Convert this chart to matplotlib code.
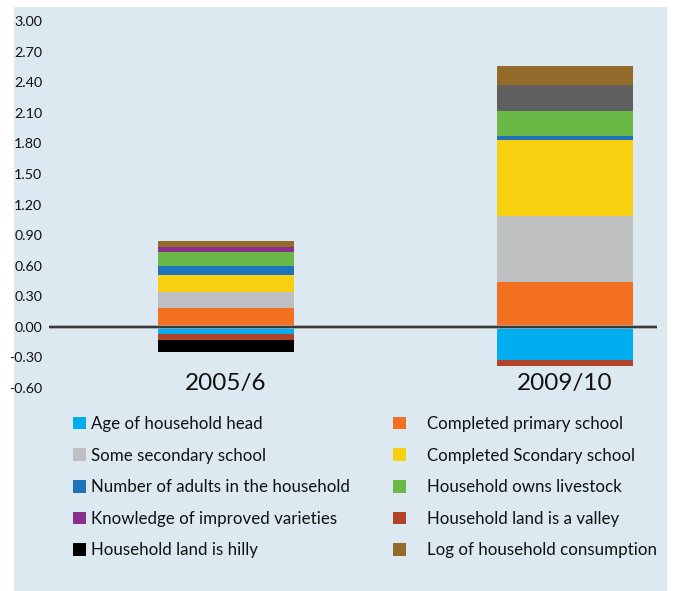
import matplotlib
matplotlib.use("Agg")
import matplotlib.pyplot as plt
from matplotlib.patches import Rectangle, Patch
import numpy as np

plt.rcParams['font.family'] = ['Lato', 'DejaVu Sans']

categories = ["2005/6", "2009/10"]
series_names = [
    "Age of household head",
    "Completed primary school",
    "Some secondary school",
    "Completed Scondary school",
    "Number of adults in the household",
    "Household owns livestock",
    "Knowledge of improved varieties",
    "Household land is a valley",
    "Household land is hilly",
    "Log of household consumption",
]
age = [-0.07, -0.33]
primary = [0.18, 0.44]
some_secondary = [0.16, 0.65]
completed_secondary = [0.17, 0.74]
adults = [0.09, 0.04]
livestock = [0.13, 0.25]
knowledge = [0.05, 0.0]
valley = [-0.06, -0.05]
hilly = [-0.12, 0.25]
consumption = [0.06, 0.19]
values = [age, primary, some_secondary, completed_secondary, adults,
          livestock, knowledge, valley, hilly, consumption]
colors = ["#00aeef", "#f37021", "#bebfc0", "#f7d10f", "#1f73bb",
          "#6ab845", "#8b2f8f", "#b0432a", "#000000", "#956b2b"]
bar_colors_override = {8: ["#000000", "#5f5f5f"]}
yticks = [-0.6, -0.3, 0.0, 0.3, 0.6, 0.9, 1.2, 1.5, 1.8, 2.1, 2.4, 2.7, 3.0]

W, H = 674, 591
fig = plt.figure(figsize=(W / 100, H / 100), dpi=100)
fig.patch.set_facecolor("white")
fig.patches.append(Rectangle((14 / W, 0), (667 - 14) / W, 1 - 7 / H,
                             transform=fig.transFigure, facecolor="#dde9f1",
                             edgecolor="none", zorder=-10))

ax = fig.add_axes([49 / W, 1 - 388 / H, (657 - 49) / W, (388 - 21) / H])
ax.set_facecolor("none")
x = np.arange(len(categories))
pos_base = np.zeros(len(categories))
neg_base = np.zeros(len(categories))
handles = []
for i, (name, vals) in enumerate(zip(series_names, values)):
    vals = np.array(vals, dtype=float)
    bottoms = np.where(vals >= 0, pos_base, neg_base)
    col = bar_colors_override.get(i, colors[i])
    ax.bar(x, vals, bottom=bottoms, width=0.40, color=col, edgecolor="none",
           zorder=2)
    pos_base = pos_base + np.where(vals >= 0, vals, 0)
    neg_base = neg_base + np.where(vals < 0, vals, 0)
    handles.append(Patch(facecolor=colors[i], edgecolor="none", label=name))

ax.set_xlim(-0.522, 1.271)
ax.set_ylim(-0.6, 3.0)
ax.set_yticks(yticks)
ax.set_yticklabels([f"{t:.2f}" for t in yticks], fontsize=10.3, color="#111111")
ax.tick_params(axis="y", length=0, pad=5)
ax.set_xticks([])
for s in ax.spines.values():
    s.set_visible(False)
ax.axhline(0, color="#a0a0a0", lw=2.6, zorder=3)
ax.axhline(0, color="#1a1a1a", lw=1.1, zorder=4)

for xi, c in zip(x, categories):
    ax.text(xi, -0.56, c, ha="center", va="center", fontsize=17.5,
            color="#111111", zorder=5)

left_idx = [0, 2, 4, 6, 8]
right_idx = [1, 3, 5, 7, 9]
common = dict(loc="upper left", frameon=False, fontsize=12.2,
              handlelength=0.77, handleheight=0.77, labelspacing=0.92,
              borderaxespad=0, borderpad=0)
leg1 = fig.legend(handles=[handles[i] for i in left_idx],
                  bbox_to_anchor=(73 / W, 1 - 416 / H), handletextpad=0.3,
                  **common)
leg2 = fig.legend(handles=[handles[i] for i in right_idx],
                  bbox_to_anchor=(393 / W, 1 - 416 / H), handletextpad=1.25,
                  **common)
for leg in (leg1, leg2):
    for t in leg.get_texts():
        t.set_color("#111111")

fig.savefig("out.png", dpi=100, facecolor=fig.get_facecolor())
